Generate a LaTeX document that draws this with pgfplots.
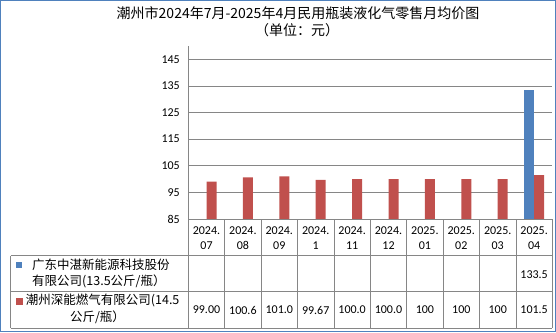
\documentclass[border=0pt]{standalone}
\usepackage{pgfplots}
\pgfplotsset{compat=1.18}
\usepackage{fontspec}
\setmainfont{Carlito}
\newfontfamily\cjk{Noto Sans CJK SC}
\definecolor{sblue}{HTML}{4F81BD}
\definecolor{sred}{HTML}{C0504D}
\definecolor{gridc}{HTML}{868686}
\begin{document}
\begin{tikzpicture}[x=1pt,y=1pt]
\useasboundingbox (0,0) rectangle (556,332);
\draw[sblue, line width=1.2pt] (0.6,0.6) rectangle (555.4,331.4);
\begin{axis}[
  at={(188.3pt,113pt)}, anchor=south west,
  scale only axis, width=364pt, height=173pt,
  xmin=-0.5, xmax=9.5, ymin=85, ymax=150,
  ytick={85,95,...,145}, xtick=\empty,
  axis lines=left, axis line style={-, gridc, line width=0.8pt},
  ymajorgrids, grid style={gridc, line width=0.8pt},
  major tick length=0pt,
  /pgf/number format/assume math mode=true,
  yticklabel style={font=\fontsize{12}{14}\selectfont, xshift=-5pt},
  clip=false,
]
\addplot[ybar, bar width=10pt, bar shift=-5pt, fill=sblue, draw=none]
  coordinates {(9,133.5)};
\addplot[ybar, bar width=10pt, bar shift=5pt, fill=sred, draw=none]
  coordinates {(0,99.00) (1,100.6) (2,101.0) (3,99.67) (4,100.0) (5,100.0) (6,100) (7,100) (8,100) (9,101.5)};
\end{axis}
% title
\node[font=\cjk\fontsize{14}{16}\selectfont] at (298,318.5) {潮州市2024年7月-2025年4月民用瓶装液化气零售月均价图};
\node[font=\cjk\fontsize{14}{16}\selectfont] at (297,302) {（单位：元）};
% table grid
\begin{scope}[gridc, line width=0.8pt]
\foreach \k in {0,...,10} { \draw ({188.3+36.4*\k},4) -- ({188.3+36.4*\k},113); }
\draw (10.7,4) -- (10.7,76.3);
\draw (10.7,76.3) -- (552.3,76.3);
\draw (10.7,40.3) -- (552.3,40.3);
\draw (10.7,4) -- (552.3,4);
\end{scope}
% category labels
\foreach \lab [count=\i from 0] in {07,08,09,1,11,12} {
  \node[align=center, font=\fontsize{12}{15}\selectfont] at ({206.5+36.4*\i},93.8) {2024.\\\lab};
}
\foreach \lab [count=\i from 6] in {01,02,03,04} {
  \node[align=center, font=\fontsize{12}{15}\selectfont] at ({206.5+36.4*\i},93.8) {2025.\\\lab};
}
% values
\node[font=\fontsize{12}{14}\selectfont] at ({206.5+36.4*9},57.7) {133.5};
\foreach \v [count=\i from 0] in {99.00,100.6,101.0,99.67,100.0,100.0,100,100,100,101.5} {
  \node[font=\fontsize{12}{14}\selectfont] at ({206.5+36.4*\i},22) {\v};
}
% legend rows
\fill[sblue] (15.7,63.7) rectangle (22.3,70.3);
\fill[sred] (16,27) rectangle (22.6,33.6);
\node[anchor=west, inner sep=0pt, font=\cjk\fontsize{12.5}{14}\selectfont] at (32,67) {广东中湛新能源科技股份};
\node[anchor=west, inner sep=0pt, font=\cjk\fontsize{12.5}{14}\selectfont] at (32,50.3) {有限公司(13.5公斤/瓶）};
\node[anchor=west, inner sep=0pt, font=\cjk\fontsize{12.5}{14}\selectfont] at (25.7,31.3) {潮州深能燃气有限公司(14.5};
\node[font=\cjk\fontsize{12.5}{14}\selectfont] at (97.5,14.7) {公斤/瓶）};
\end{tikzpicture}
\end{document}
